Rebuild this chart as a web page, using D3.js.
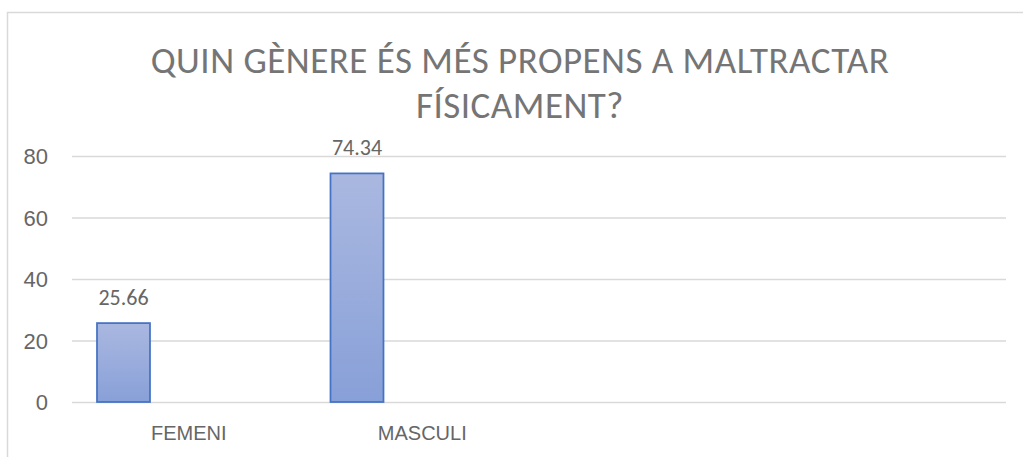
<!DOCTYPE html>
<html>
<head>
<meta charset="utf-8">
<script src="https://cdn.jsdelivr.net/npm/d3@7"></script>
<style>
  html, body { margin: 0; padding: 0; background: #fff; }
  svg { display: block; font-family: Carlito, Calibri, Lato, sans-serif; }
</style>
</head>
<body>
<svg id="chart"></svg>
<script>
// chart data
const titleLines = ["QUIN GÈNERE ÉS MÉS PROPENS A MALTRACTAR", "FÍSICAMENT?"];
const categories = ["FEMENI", "MASCULI", "", ""];
const seriesNames = ["Sèrie 1", "Sèrie 2", "Sèrie 3"];
const serie1 = [25.66, 74.34, null, null];
const serie2 = [null, null, null, null];
const serie3 = [null, null, null, null];
const yTicks = [0, 20, 40, 60, 80];

const width = 1023, height = 457;
const margin = { top: 156, right: 17, bottom: 55, left: 72 };

const svg = d3.select("#chart")
    .attr("width", width)
    .attr("height", height);

// light border of the chart area
svg.append("rect")
    .attr("x", 7.5).attr("y", 12.5)
    .attr("width", 1040).attr("height", 500)
    .attr("fill", "none")
    .attr("stroke", "#d9d9d9")
    .attr("stroke-width", 1.5);

const defs = svg.append("defs");
const grad = defs.append("linearGradient")
    .attr("id", "barGrad")
    .attr("x1", 0).attr("y1", 0).attr("x2", 0).attr("y2", 1);
grad.append("stop").attr("offset", "0%").attr("stop-color", "#aab8e0");
grad.append("stop").attr("offset", "100%").attr("stop-color", "#88a0d8");

const x0 = d3.scaleBand()
    .domain(d3.range(categories.length))
    .range([margin.left, width - margin.right])
    .padding(0);

const x1 = d3.scaleBand()
    .domain(seriesNames)
    .range([0, x0.bandwidth()])
    .paddingInner(0.188)
    .paddingOuter(0.383);

const y = d3.scaleLinear()
    .domain([0, 80])
    .range([height - margin.bottom, margin.top]);

// gridlines + y labels
const yAxis = svg.append("g")
    .attr("transform", `translate(${margin.left},0)`)
    .call(d3.axisLeft(y)
        .tickValues(yTicks)
        .tickSize(-(width - margin.left - margin.right))
        .tickPadding(24));
yAxis.select(".domain").remove();
yAxis.selectAll(".tick line")
    .attr("stroke", "#d9d9d9")
    .attr("stroke-width", 1.5);
yAxis.selectAll(".tick text")
    .attr("fill", "#666")
    .style("font-size", "22px")
    .attr("dy", "0.35em");

// category labels
const xAxis = svg.append("g")
    .attr("transform", `translate(0,${height - margin.bottom})`)
    .call(d3.axisBottom(x0).tickFormat(i => categories[i]).tickSize(0).tickPadding(24));
xAxis.select(".domain").remove();
xAxis.selectAll(".tick text")
    .attr("fill", "#666")
    .style("font-size", "20px");

const seriesData = [serie1, serie2, serie3];
const bars = [];
seriesData.forEach((vals, s) => {
    vals.forEach((v, i) => {
        if (v != null) bars.push({ cat: i, series: seriesNames[s], value: v });
    });
});

svg.append("g").selectAll("rect")
    .data(bars)
    .join("rect")
    .attr("x", d => x0(d.cat) + x1(d.series))
    .attr("y", d => y(d.value))
    .attr("width", x1.bandwidth())
    .attr("height", d => y(0) - y(d.value))
    .attr("fill", "url(#barGrad)")
    .attr("stroke", "#4472c4")
    .attr("stroke-width", 1.75);

svg.append("g").selectAll("text")
    .data(bars)
    .join("text")
    .attr("x", d => x0(d.cat) + x1(d.series) + x1.bandwidth() / 2)
    .attr("y", d => y(d.value) - 18)
    .attr("text-anchor", "middle")
    .attr("fill", "#666")
    .style("font-size", "22px")
    .text(d => d.value.toFixed(2));

// title, two lines
svg.append("g").selectAll("text")
    .data(titleLines)
    .join("text")
    .attr("x", 520)
    .attr("y", (d, i) => 73 + i * 45)
    .attr("text-anchor", "middle")
    .attr("fill", "#757575")
    .style("font-size", "37px")
    .style("font-weight", 300)
    .style("letter-spacing", "0.5px")
    .text(d => d);
</script>
</body>
</html>
